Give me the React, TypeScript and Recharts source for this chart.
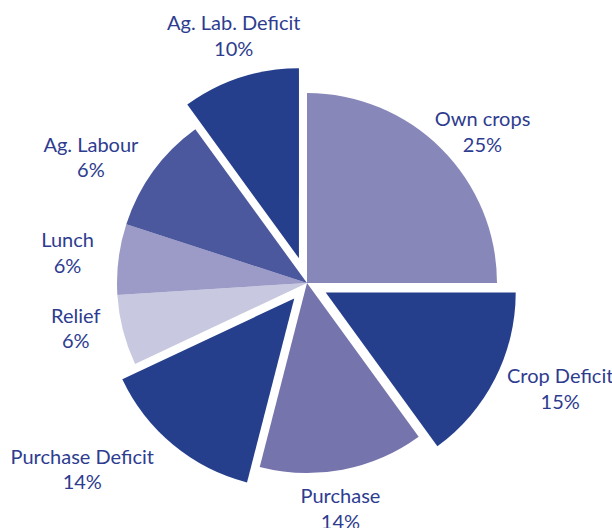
import React from 'react';
import { Cell, Pie, PieChart, Sector } from 'recharts';

const categories = ['Own crops', 'Crop Deficit', 'Purchase', 'Purchase Deficit', 'Relief', 'Lunch', 'Ag. Labour', 'Ag. Lab. Deficit'];
const shares = [25, 15, 14, 14, 6, 6, 10, 10];
const shareLabels = ['25%', '15%', '14%', '14%', '6%', '6%', '6%', '10%'];

const COLORS = ['#8787b9', '#263f8c', '#7574ac', '#263f8c', '#c8c8e1', '#9c9bc7', '#4c589d', '#263f8c'];
// pulled-out slices and how far (px)
const EXPLODE: Record<string, number> = { 'Crop Deficit': 21, 'Purchase Deficit': 20, 'Ag. Lab. Deficit': 26 };
// hand tweaks for label placement, like the original layout
const LABEL_NUDGE: Record<string, [number, number]> = {
  'Own crops': [4, 20],
  'Crop Deficit': [8, -19],
  Purchase: [-9, 3],
  'Purchase Deficit': [-50, -25],
  Relief: [-8, -12],
  Lunch: [-9, -1],
  'Ag. Labour': [-17, 19],
  'Ag. Lab. Deficit': [7, 0],
};
const TEXT_COLOR = '#2e3c8f';
const FONT = 'Lato, sans-serif';
const FONT_SIZE = 20;
const RADIAN = Math.PI / 180;

const data = categories.map((name, i) => ({ name, value: shares[i] }));

let ctx: CanvasRenderingContext2D | null = null;
const textWidth = (s: string) => {
  if (!ctx) ctx = document.createElement('canvas').getContext('2d');
  if (!ctx) return s.length * 9;
  ctx.font = `${FONT_SIZE}px ${FONT}`;
  return ctx.measureText(s).width;
};

const ExplodedSector = (props: any) => {
  const name = props.payload?.name ?? props.name;
  const d = EXPLODE[name] ?? 0;
  const dx = d * Math.cos(-props.midAngle * RADIAN);
  const dy = d * Math.sin(-props.midAngle * RADIAN);
  return (
    <Sector
      cx={props.cx + dx}
      cy={props.cy + dy}
      innerRadius={props.innerRadius}
      outerRadius={props.outerRadius}
      startAngle={props.startAngle}
      endAngle={props.endAngle}
      fill={props.fill}
      stroke="none"
    />
  );
};

const renderLabel = (props: any) => {
  const { cx, cy, midAngle, outerRadius, index } = props;
  const name = categories[index];
  const pct = shareLabels[index];
  const d = EXPLODE[name] ?? 0;
  const [nx, ny] = LABEL_NUDGE[name] ?? [0, 0];
  const ux = Math.cos(-midAngle * RADIAN);
  const uy = Math.sin(-midAngle * RADIAN);
  const hw = Math.max(textWidth(name), textWidth(pct)) / 2;
  const hh = 19.5;
  const support = Math.sqrt((hw * ux) ** 2 + (hh * uy) ** 2);
  const dist = outerRadius + d + 16 + support;
  const x = cx + dist * ux + nx;
  const y = cy + dist * uy + ny;
  return (
    <text textAnchor="middle" fill={TEXT_COLOR} fontSize={FONT_SIZE} fontFamily={FONT}>
      <tspan x={x} y={y - 5.5}>{name}</tspan>
      <tspan x={x} y={y + 20}>{pct}</tspan>
    </text>
  );
};

export default function App() {
  return (
    <div style={{ position: 'absolute', left: 0, top: 0, width: 612, height: 528, background: '#fff' }}>
      <PieChart width={612} height={528}>
        <Pie
          data={data}
          dataKey="value"
          nameKey="name"
          cx={302}
          cy={278}
          outerRadius={190}
          startAngle={90}
          endAngle={-270}
          stroke="none"
          shape={ExplodedSector}
          label={renderLabel}
          labelLine={false}
          isAnimationActive={false}
        >
          {data.map((d, i) => (
            <Cell key={d.name} fill={COLORS[i]} />
          ))}
        </Pie>
      </PieChart>
    </div>
  );
}
